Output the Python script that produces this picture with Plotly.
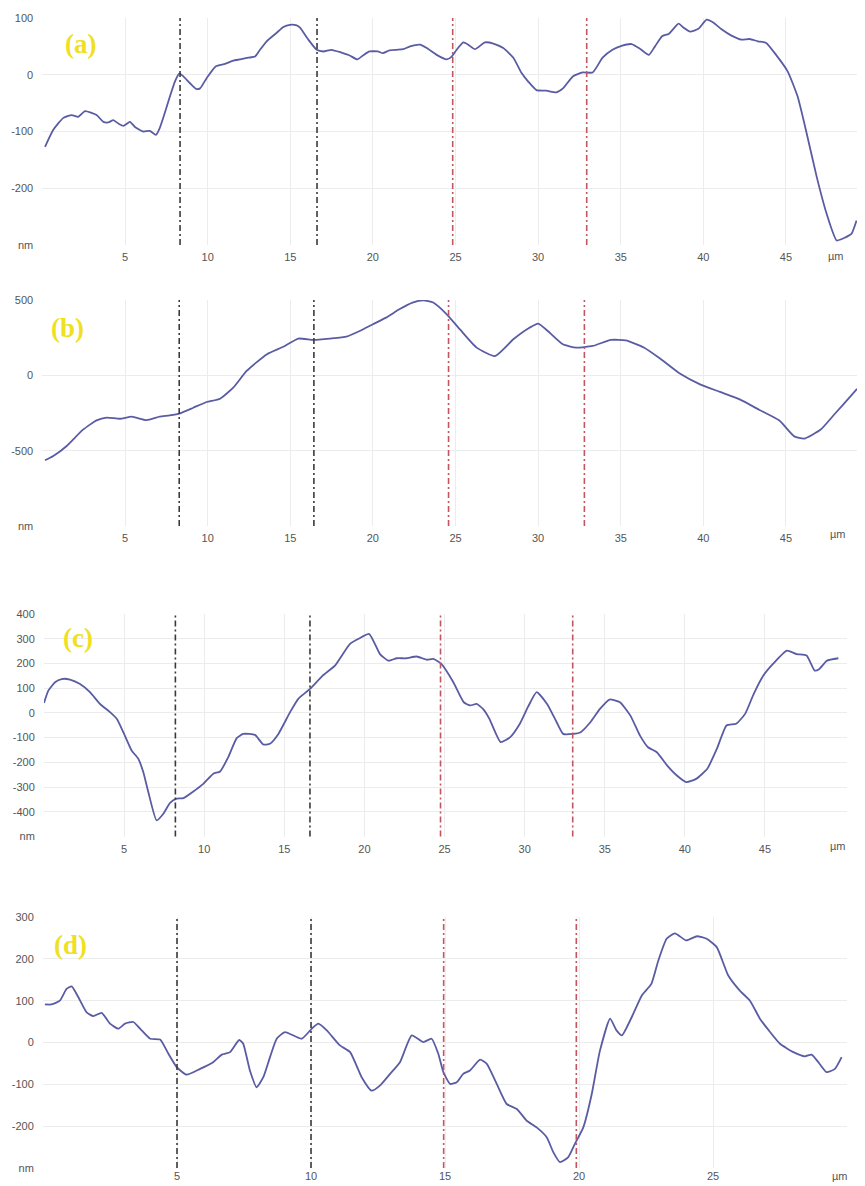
import plotly.graph_objects as go

# page body has an 8px margin: figure placed at (8, 8) and reaching the window edge
OFF = 8
W, H = 865 - OFF, 1186 - OFF

# ---------------- data ----------------
a_x = [0.16,0.66,1.27,1.77,2.17,2.58,3.28,3.69,3.99,4.29,
       4.6,4.9,5.3,5.6,6.1,6.5,6.87,7.1,7.4,7.72,
       8.02,8.28,8.5,8.93,9.3,9.54,9.94,10.5,11.05,11.55,
       11.96,12.46,12.87,13.17,13.57,14.18,14.58,14.98,15.39,15.59,
       16.09,16.6,17.0,17.5,18.1,18.6,19.05,19.4,19.8,20.3,
       20.6,21.0,21.44,21.84,22.25,22.85,23.26,23.86,24.47,24.77,
       25.07,25.47,25.77,26.18,26.78,27.29,27.89,28.5,29.0,29.4,
       29.9,30.5,31.1,31.5,32.1,32.7,33.3,33.9,34.5,35.05,
       35.66,36.2,36.7,37.07,37.5,37.9,38.5,38.8,39.2,39.7,
       40.2,40.6,41.1,41.7,42.3,42.8,43.3,43.8,44.4,45.1,
       45.7,46.25,46.86,47.46,48.07,48.57,48.97,49.27]
a_y = [-127,-97,-76,-71,-74,-64,-71,-83,-84,-80,
       -86,-90,-83,-92,-100,-99,-106,-94,-68,-38,
       -12,2,-2,-15,-25,-24,-6,15,19,25,
       27,30,32,44,59,74,84,88,87,83,
       62,44,41,44,39,34,27,34,41,41,
       38,43,44,45,50,53,47,35,27,32,
       44,57,53,45,57,55,47,30,3,-12,
       -27,-28,-31,-24,-3,4,4,30,44,51,
       54,45,35,50,68,72,90,83,76,81,
       97,92,80,69,62,63,59,56,35,6,
       -38,-103,-180,-245,-292,-287,-280,-257]

b_x = [0.16,0.66,1.47,1.77,2.48,3.28,3.89,4.7,5.4,6.3,
       7.1,7.7,8.33,9.13,9.94,10.75,11.55,12.36,13.57,14.58,
       15.49,16.4,17.4,18.4,19.2,20.0,20.8,21.6,22.4,23.05,
       23.65,24.47,25.27,26.28,27.39,28.5,29.5,30.0,30.7,31.5,
       32.3,33.3,34.4,35.3,36.4,37.4,38.6,39.8,41.0,42.2,
       43.4,44.6,45.5,46.1,47.1,48.0,48.9,49.3]
b_y = [-564,-536,-469,-436,-359,-299,-281,-288,-274,-297,
       -274,-266,-252,-215,-177,-155,-82,29,139,190,
       244,235,244,257,294,339,383,438,483,498,
       483,405,305,184,128,239,317,343,283,206,
       184,195,235,232,185,110,10,-60,-110,-160,
       -230,-300,-405,-420,-360,-250,-140,-90]

c_x = [0.0,0.27,0.69,1.1,1.62,2.25,2.87,3.5,4.12,4.54,
       4.95,5.47,5.89,6.2,6.51,7.03,7.45,7.87,8.28,8.7,
       9.32,9.94,10.57,10.99,11.5,12.03,12.44,13.17,13.69,14.1,
       14.63,15.36,15.87,16.6,17.4,18.16,19.1,19.7,20.3,20.97,
       21.5,22.02,22.6,23.26,23.9,24.3,24.8,25.55,26.2,26.6,
       27.0,27.4,27.8,28.5,29.1,29.7,30.2,30.75,31.4,32.0,
       32.4,33.0,33.5,34.1,34.7,35.3,35.95,36.6,37.2,37.7,
       38.25,38.9,39.5,40.1,40.7,41.4,42.0,42.6,43.2,43.76,
       44.3,44.9,45.5,46.36,46.98,47.6,48.1,48.4,48.86,49.58]
c_y = [40,90,124,137,135,117,84,36,3,-24,
       -78,-152,-186,-240,-320,-435,-408,-364,-347,-345,
       -318,-287,-246,-237,-179,-102,-85,-89,-128,-125,
       -85,3,57,97,151,191,279,302,319,238,
       211,221,221,228,215,218,198,124,43,30,
       36,16,-24,-118,-98,-44,23,84,36,-38,
       -85,-85,-78,-38,16,54,43,-11,-92,-139,
       -159,-213,-253,-280,-267,-226,-145,-51,-44,-4,
       77,151,198,252,238,232,171,178,211,221]

d_x = [0.07,0.32,0.63,0.88,1.07,1.32,1.63,1.88,2.19,2.5,
       2.81,3.06,3.37,3.62,4.0,4.37,4.68,4.99,5.36,5.86,
       6.35,6.67,6.98,7.32,7.47,7.72,7.97,8.22,8.47,8.72,
       9.03,9.65,10.03,10.27,10.59,11.08,11.46,11.89,12.26,12.57,
       12.95,13.32,13.76,14.19,14.5,14.75,14.94,15.19,15.44,15.68,
       15.93,16.31,16.56,16.93,17.3,17.68,18.05,18.42,18.8,19.04,
       19.29,19.6,19.85,20.16,20.47,20.78,21.16,21.4,21.6,21.97,
       22.34,22.7,22.96,23.27,23.58,24.0,24.4,24.76,25.14,25.57,
       26.0,26.38,26.75,27.13,27.5,28.0,28.43,28.68,28.93,29.24,
       29.55,29.8]
d_y = [91,91,100,128,134,108,72,63,71,45,
       33,45,49,33,9,7,-27,-59,-77,-63,
       -47,-29,-23,6,-3,-67,-107,-83,-35,9,
       25,9,33,45,29,-7,-23,-83,-115,-103,
       -75,-47,17,1,9,-27,-71,-99,-95,-75,
       -67,-41,-51,-99,-147,-159,-187,-203,-227,-262,
       -286,-274,-242,-203,-125,-20,57,29,17,61,
       112,140,196,248,261,244,254,248,228,160,
       124,100,57,25,-3,-23,-33,-29,-47,-71,
       -63,-35]

# marker (section) lines
a_black, a_red = [8.33, 16.62], [24.83, 32.94]
b_black, b_red = [8.28, 16.43], [24.58, 32.8]
c_black, c_red = [8.2, 16.6], [24.75, 33.0]
d_black, d_red = [5.0, 10.0], [14.95, 19.9]

xticks_50 = [5, 10, 15, 20, 25, 30, 35, 40, 45]
xticks_30 = [5, 10, 15, 20, 25]
a_yticks, a_ytext = [100, 0, -100, -200, -300], ["100", "0", "-100", "-200", "nm"]
b_yticks, b_ytext = [500, 0, -500, -1000], ["500", "0", "-500", "nm"]
c_yticks = [400, 300, 200, 100, 0, -100, -200, -300, -400, -500]
c_ytext = ["400", "300", "200", "100", "0", "-100", "-200", "-300", "-400", "nm"]
d_yticks, d_ytext = [300, 200, 100, 0, -100, -200, -300], ["300", "200", "100", "0", "-100", "-200", "nm"]

panel_labels = ["(a)", "(b)", "(c)", "(d)"]

# ---------------- layout geometry (window pixels) ----------------
panels = [
    dict(x=a_x, y=a_y, black=a_black, red=a_red, xr=[0, 49.6], yr=[-300, 100],
         px=(42.4, 862), py=(18, 245), xt=xticks_50, yt=a_yticks, ytt=a_ytext,
         lab=(80, 44), um=(836, 256), tl=2),
    dict(x=b_x, y=b_y, black=b_black, red=b_red, xr=[0, 49.6], yr=[-1000, 500],
         px=(42.4, 862), py=(300, 526), xt=xticks_50, yt=b_yticks, ytt=b_ytext,
         lab=(67, 328), um=(838, 534), tl=2),
    dict(x=c_x, y=c_y, black=c_black, red=c_red, xr=[0, 50.12], yr=[-500, 400],
         px=(44, 847), py=(614, 836.5), xt=xticks_50, yt=c_yticks, ytt=c_ytext,
         lab=(78, 638), um=(838, 846), tl=2),
    dict(x=d_x, y=d_y, black=d_black, red=d_red, xr=[0, 30], yr=[-300, 300],
         px=(43, 847), py=(917, 1168), xt=xticks_30, yt=d_yticks, ytt=d_ytext,
         lab=(71, 945), um=(840, 1176), tl=0),
]


def fx(px):
    return min(max((px - OFF) / W, 0), 1)


def fy(py):
    return min(max(1 - (py - OFF) / H, 0), 1)


LINE = "#5a5ca3"
GRID = "#ececec"
TICKF = dict(family="Liberation Sans, Arial, sans-serif", size=11, color="#555555")

fig = go.Figure()
layout = dict(width=W, height=H, margin=dict(l=0, r=0, t=0, b=0, pad=0),
              paper_bgcolor="white", plot_bgcolor="white", showlegend=False)
shapes, annotations = [], []

for i, p in enumerate(panels, start=1):
    sx = "" if i == 1 else str(i)
    xa, ya = "x" + sx, "y" + sx
    fig.add_trace(go.Scatter(x=p["x"], y=p["y"], mode="lines",
                             line=dict(color=LINE, width=1.8, shape="spline",
                                       smoothing=0.5),
                             xaxis=xa, yaxis=ya, hoverinfo="skip"))
    layout["xaxis" + sx] = dict(
        domain=[fx(p["px"][0]), fx(p["px"][1])], range=p["xr"], anchor=ya,
        tickvals=p["xt"], showgrid=True, gridcolor=GRID, gridwidth=1,
        zeroline=False, showline=False, ticks="outside" if p["tl"] else "",
        ticklen=max(p["tl"], 1),
        tickcolor="rgba(0,0,0,0)", tickfont=TICKF, automargin=False)
    layout["yaxis" + sx] = dict(
        domain=[fy(p["py"][1]), fy(p["py"][0])], range=p["yr"], anchor=xa,
        tickvals=p["yt"], ticktext=p["ytt"], showgrid=True, gridcolor=GRID,
        gridwidth=1, zeroline=False, showline=False, ticks="outside", ticklen=6,
        tickcolor="rgba(0,0,0,0)", tickfont=TICKF, automargin=False)
    for xv in p["black"]:
        shapes.append(dict(type="line", xref=xa, yref=ya + " domain", x0=xv, x1=xv,
                           y0=0, y1=1, line=dict(color="#3a3a3a", width=1.6,
                                                 dash="6px,3px,2px,3px")))
    for xv in p["red"]:
        shapes.append(dict(type="line", xref=xa, yref=ya + " domain", x0=xv, x1=xv,
                           y0=0, y1=1, line=dict(color="#c25560", width=1.6,
                                                 dash="6px,3px,2px,3px")))
    annotations.append(dict(text="<b>" + panel_labels[i - 1] + "</b>", xref="paper",
                            yref="paper", x=fx(p["lab"][0]), y=fy(p["lab"][1]),
                            xanchor="center", yanchor="middle", showarrow=False,
                            font=dict(family="Liberation Serif, Times New Roman, serif",
                                      size=27, color="#efe022")))
    annotations.append(dict(text="µm", xref="paper", yref="paper",
                            x=fx(p["um"][0]), y=fy(p["um"][1]),
                            xanchor="center", yanchor="middle", showarrow=False,
                            font=TICKF))

layout["shapes"] = shapes
layout["annotations"] = annotations
fig.update_layout(**layout)
fig.write_html("out.html")
